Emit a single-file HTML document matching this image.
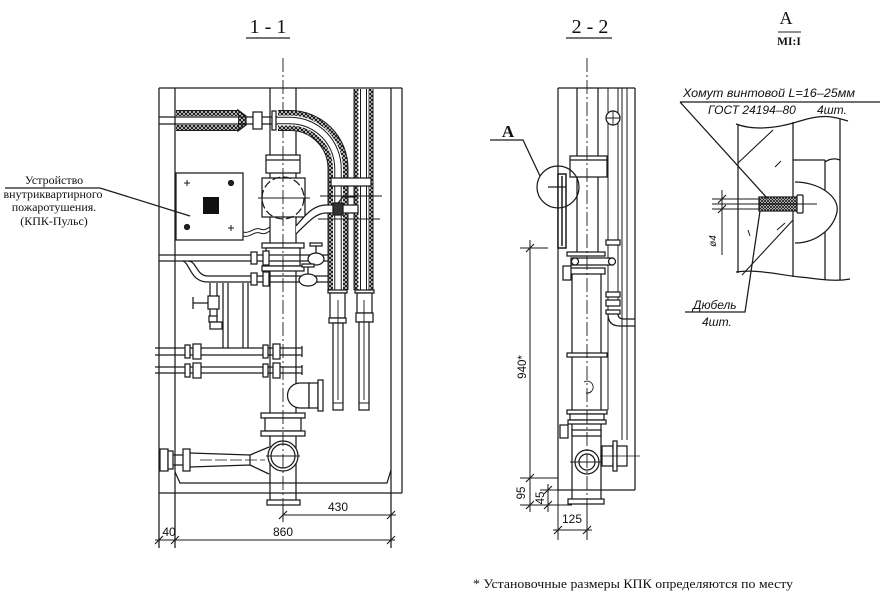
<!DOCTYPE html>
<html><head><meta charset="utf-8"><style>
html,body{margin:0;padding:0;background:#fff;}
svg{display:block}
text{font-family:"Liberation Serif",serif;fill:#111}
.s{font-family:"Liberation Sans",sans-serif;}
.i{font-family:"Liberation Sans",sans-serif;font-style:italic;}
</style></head><body>
<svg width="883" height="600" viewBox="0 0 883 600" xmlns="http://www.w3.org/2000/svg">
<defs>
<pattern id="br" width="4" height="4" patternUnits="userSpaceOnUse">
<rect width="4" height="4" fill="#fff"/>
<path d="M0,0L4,4M4,0L0,4" stroke="#1a1a1a" stroke-width="1.15"/>
</pattern>
<pattern id="br2" width="3" height="3" patternUnits="userSpaceOnUse">
<rect width="3" height="3" fill="#fff"/>
<path d="M0,0L3,3M3,0L0,3" stroke="#1a1a1a" stroke-width="0.9"/>
</pattern>
</defs>

<!-- ===== Titles ===== -->
<text x="268" y="33" font-size="20" text-anchor="middle">1 - 1</text>
<path d="M246 38H290" stroke="#222" stroke-width="1.3"/>
<text x="590" y="33" font-size="20" text-anchor="middle">2 - 2</text>
<path d="M566 38H612" stroke="#222" stroke-width="1.3"/>
<text x="786" y="24" font-size="18" text-anchor="middle">А</text>
<path d="M778 32H801" stroke="#222" stroke-width="1.1"/>
<text x="789" y="45" font-size="11.5" font-weight="bold" text-anchor="middle">МI:I</text>

<g stroke="#1a1a1a" stroke-width="1.25" fill="none">
<!-- ===== 1-1 frame ===== -->
<path d="M159 88V548M175 88V548M391 88V548M402 88V493M159 88H402"/>
<path d="M159 493H402M175 472L180 483H387L391 470"/>

<!-- center pipe -->
<path d="M270 88V155M296 88V155M270 173V243M296 173V243M270 271V413M296 271V413M270 436V500M296 436V500"/>
<rect x="266" y="155" width="34" height="18" fill="#fff"/>
<path d="M266 160H300"/>
<rect x="262" y="178" width="43" height="39" fill="#fff"/>
<circle cx="283" cy="198" r="21" stroke-dasharray="8 3"/>
<path d="M258 198H310" stroke-width="0.9"/>
<rect x="262" y="243" width="42" height="5" fill="#fff"/>
<rect x="266" y="248" width="34" height="18" fill="#fff"/>
<rect x="262" y="266" width="42" height="5" fill="#fff"/>
<rect x="261" y="413" width="44" height="5" fill="#fff"/>
<rect x="265" y="418" width="36" height="13" fill="#fff"/>
<rect x="261" y="431" width="44" height="5" fill="#fff"/>
<circle cx="283" cy="456" r="15" fill="#fff"/>
<circle cx="283" cy="456" r="12"/>
<path d="M266 456H300" stroke-width="0.9"/>
<rect x="267" y="500" width="33" height="5" fill="#fff"/>

<!-- right elbow -->
<path d="M309 383H300A12.5 12.5 0 0 0 300 408H309Z" fill="#fff"/>
<rect x="309" y="383" width="9" height="25" fill="#fff"/>
<rect x="318" y="380" width="5" height="31" fill="#fff"/>

<!-- left reducer -->
<rect x="160" y="449" width="8" height="22" fill="#fff"/>
<rect x="168" y="451" width="5" height="18" fill="#fff"/>
<path d="M173 455H183M173 465H183"/>
<rect x="183" y="449" width="7" height="22" fill="#fff"/>
<path d="M190 453L250 455M190 467L250 465M250 455L269 447M250 465L269 474M250 455V465"/>
<path d="M200 460H265" stroke-width="0.8" stroke-dasharray="12 3"/>

<!-- rows 1,2 -->
<path d="M159 255H330M159 261H330"/>
<path d="M188 261C197 261 196 276 208 276H330M183 261C190 263 190 282 208 282H330"/>
<rect x="251" y="252" width="6" height="12" fill="#fff"/>
<rect x="263" y="251" width="6" height="14" fill="#fff"/>
<rect x="251" y="273" width="6" height="12" fill="#fff"/>
<rect x="263" y="272" width="6" height="14" fill="#fff"/>
<ellipse cx="316" cy="259" rx="8" ry="6" fill="#fff"/>
<path d="M316 253V246"/>
<rect x="310" y="243" width="12" height="3" fill="#fff"/>
<ellipse cx="308" cy="280" rx="9" ry="6" fill="#fff"/>
<path d="M308 274V267"/>
<rect x="302" y="264" width="12" height="3" fill="#fff"/>

<!-- small vertical with valve -->
<path d="M210 283V318M217 283V318"/>
<rect x="208" y="296" width="11" height="13" fill="#fff"/>
<path d="M193 297V309M193 303H208"/>
<rect x="209" y="316" width="8" height="6" fill="#fff"/>
<rect x="210" y="322" width="12" height="7" fill="#fff"/>
<path d="M223 283V348M228 283V348M243 283V348M248 283V348"/>

<!-- rows 3,4 -->
<path d="M155 348H302M155 355H302M302 346V357M155 367H302M155 373H302M302 365V375"/>
<rect x="185" y="345" width="5" height="13" fill="#fff"/>
<rect x="193" y="344" width="8" height="15" fill="#fff"/>
<rect x="263" y="345" width="5" height="13" fill="#fff"/>
<rect x="273" y="344" width="7" height="15" fill="#fff"/>
<rect x="185" y="364" width="5" height="13" fill="#fff"/>
<rect x="193" y="363" width="8" height="15" fill="#fff"/>
<rect x="263" y="364" width="5" height="13" fill="#fff"/>
<rect x="273" y="363" width="7" height="15" fill="#fff"/>

<!-- center dash line -->
<path d="M283 58V522" stroke-width="0.9" stroke-dasharray="14 3 2 3"/>

<!-- insulated pipes -->
<polygon points="238,110 246,116 246,125 238,131" fill="url(#br)"/>
<path d="M176 120.5H238" stroke="#1a1a1a" stroke-width="21"/>
<path d="M176 120.5H238" stroke="url(#br)" stroke-width="19"/>
<path d="M176 120.5H238" stroke="#fff" stroke-width="9"/>
<path d="M159 117H285M159 124H285"/>
<rect x="253" y="112" width="9" height="17" fill="#fff"/>
<rect x="272" y="111" width="4" height="19" fill="#fff"/>

<g>
<path d="M278 120.5H290A48 48 0 0 1 338 168.5V290" stroke="#1a1a1a" stroke-width="21"/>
<path d="M278 120.5H290A48 48 0 0 1 338 168.5V290" stroke="url(#br)" stroke-width="19"/>
<path d="M278 120.5H290A48 48 0 0 1 338 168.5V290" stroke="#fff" stroke-width="10"/>
<path d="M278 120.5H290A48 48 0 0 1 338 168.5V290" stroke="#1a1a1a" stroke-width="7.5"/>
<path d="M278 120.5H290A48 48 0 0 1 338 168.5V290" stroke="#fff" stroke-width="5.5"/>
<path d="M363.5 89V290" stroke="#1a1a1a" stroke-width="20"/>
<path d="M363.5 89V290" stroke="url(#br)" stroke-width="18"/>
<path d="M363.5 89V290" stroke="#fff" stroke-width="10"/>
<path d="M363.5 89V290" stroke="#1a1a1a" stroke-width="7"/>
<path d="M363.5 89V290" stroke="#fff" stroke-width="5"/>
</g>

<!-- pipe ends below insulation -->
<rect x="328" y="290" width="19" height="3" fill="#fff"/>
<rect x="330" y="293" width="15" height="25" fill="#fff"/>
<rect x="329" y="318" width="17" height="5" fill="#fff"/>
<rect x="333" y="323" width="10" height="87" fill="#fff"/>
<path d="M333 403H343M338 300V400" stroke-width="0.9"/>
<rect x="355" y="290" width="19" height="3" fill="#fff"/>
<rect x="357" y="293" width="15" height="20" fill="#fff"/>
<rect x="356" y="313" width="17" height="9" fill="#fff"/>
<rect x="359" y="322" width="10" height="88" fill="#fff"/>
<path d="M359 403H369M364 300V400" stroke-width="0.9"/>

<!-- bracket & branch from tee -->
<rect x="331" y="178" width="40" height="8" fill="#fff"/>
<path d="M320 196H382M318 219H380" stroke-width="0.9"/>
<path d="M296 226C306 214 314 205 326 205H358V213H326C316 213 308 222 296 234" fill="#fff"/>
<rect x="333" y="203" width="10" height="12" fill="#333"/>
<path d="M338 203L343 197H356"/>

<!-- KPK box -->
<rect x="176" y="173" width="67" height="67" fill="#fff"/>
<rect x="203" y="197" width="16" height="17" fill="#111" stroke="none"/>
<path d="M184 183H190M187 180V186M228 228H234M231 225V231" stroke-width="1"/>
<circle cx="231" cy="183" r="2.5" fill="#222"/>
<circle cx="187" cy="227" r="2.5" fill="#222"/>
<path d="M243 232C250 234 254 227 260 229S267 228 270 227M243 236C250 238 254 231 260 233S267 232 270 231" stroke-width="1"/>

<!-- label leader -->
<path d="M5 188H100L190 216"/>

<!-- dims 1-1 -->
<path d="M155 540H395M283 515H396M283 505V522" stroke-width="1"/>
<path d="M155 544L163 536M171 544L179 536M387 544L395 536M279 519L287 511M387 519L395 511" stroke-width="1.1"/>

<!-- ===== 2-2 ===== -->
<path d="M558 88V490M635 88V490M558 88H635M558 490H635"/>
<path d="M622 88V440M627 88V440M608 88V410M618 88V300" stroke-width="1"/>
<circle cx="613" cy="118" r="7" fill="#fff"/>
<path d="M606 118H620M613 111V125" stroke-width="0.9"/>
<rect x="606" y="240" width="14" height="5" fill="#fff"/>
<rect x="606" y="292" width="14" height="5" fill="#fff"/>
<rect x="606" y="300" width="14" height="6" fill="#fff"/>
<rect x="606" y="310" width="14" height="4" fill="#fff"/>
<path d="M608 314Q608 326 620 326H635M618 314Q618 319 624 319H635"/>

<path d="M577 88V252M598 88V252"/>
<rect x="570" y="156" width="37" height="21" fill="#fff"/>
<path d="M570 160H607"/>

<rect x="558" y="174" width="8" height="74" fill="#fff" stroke-width="1.5"/>
<path d="M562 176V246" stroke-width="1.5"/>
<path d="M548 187H566"/>
<circle cx="558" cy="187" r="21"/>

<rect x="567" y="252" width="38" height="4" fill="#fff"/>
<rect x="571" y="258" width="42" height="7" fill="#fff"/>
<circle cx="575" cy="261.5" r="3.5" fill="#fff"/>
<circle cx="612" cy="261.5" r="3.5" fill="#fff"/>
<rect x="570" y="268" width="35" height="6" fill="#fff"/>
<rect x="563" y="266" width="8" height="14" fill="#fff"/>

<path d="M572 274V500M601 274V500"/>
<rect x="567" y="353" width="40" height="4" fill="#fff"/>
<path d="M584 382A6 6 0 1 1 586 393" stroke-width="0.9"/>
<rect x="567" y="410" width="40" height="4" fill="#fff"/>
<rect x="570" y="414" width="34" height="6" fill="#fff"/>
<rect x="568" y="420" width="38" height="4" fill="#fff"/>
<rect x="572" y="430" width="29" height="6" fill="#fff"/>
<rect x="560" y="425" width="8" height="13" fill="#fff"/>
<circle cx="587" cy="462" r="12" fill="#fff"/>
<circle cx="587" cy="462" r="8"/>
<path d="M570 462H604" stroke-width="0.9"/>
<rect x="602" y="446" width="11" height="20" fill="#fff"/>
<rect x="613" y="441" width="4" height="30" fill="#fff"/>
<rect x="617" y="446" width="10" height="20" fill="#fff"/>
<path d="M600 456H640" stroke-width="0.8"/>
<rect x="568" y="499" width="36" height="5" fill="#fff"/>
<path d="M587 58V522" stroke-width="0.9" stroke-dasharray="14 3 2 3"/>

<!-- A leader -->
<path d="M490 140H523L540 176"/>

<!-- dims 2-2 -->
<path d="M530 240V512M520 248H548M520 478H558M540 490H558M520 505H572M548 484V512" stroke-width="1"/>
<path d="M526 252L534 244M526 482L534 474M526 509L534 501M544 494L552 486M544 509L552 501" stroke-width="1.1"/>
<path d="M558 490V540M587 505V540M553 530H592" stroke-width="1"/>
<path d="M554 534L562 526M583 534L591 526" stroke-width="1.1"/>

<!-- ===== Detail A ===== -->
<path d="M738 124V273M793 122V277M840 119V280M825 160V280"/>
<path d="M736 124C755 131 778 128 800 121S832 116 848 121"/>
<path d="M736 272C758 269 780 275 800 277S834 282 850 279"/>
<path d="M793 160H825M825 162Q832 157 840 160"/>
<path d="M795 182C818 182 840 196 837 212C833 230 815 243 795 243" fill="#fff"/>
<path d="M738 163L773 130M742 275L793 220" stroke-width="1.1"/>
<path d="M775 167L781 161M777 230L785 223M748 230L750 236" stroke-width="1"/>
<rect x="759" y="197" width="38" height="14" fill="url(#br2)"/>
<rect x="797" y="195" width="6" height="18" rx="1" fill="#fff"/>
<path d="M712 204H817" stroke-width="0.9"/>
<path d="M712 199H760M712 209H760M722 190V255" stroke-width="1"/>
<path d="M718 203L726 195M718 213L726 205" stroke-width="1.1"/>
<path d="M680 102H880M680 102L767 198"/>
<path d="M685 312H745L760 211"/>
</g>

<!-- ===== Texts ===== -->
<g font-size="12" text-anchor="middle">
<text x="54" y="184">Устройство</text>
<text x="53" y="198" textLength="99" lengthAdjust="spacingAndGlyphs">внутриквартирного</text>
<text x="54" y="211">пожаротушения.</text>
<text x="54" y="225">(КПК-Пульс)</text>
</g>

<text class="s" x="338" y="511" font-size="12" text-anchor="middle">430</text>
<text class="s" x="283" y="536" font-size="12" text-anchor="middle">860</text>
<text class="s" x="169" y="536" font-size="12" text-anchor="middle">40</text>

<text x="508" y="137" font-size="17" font-weight="bold" text-anchor="middle">А</text>
<text class="s" font-size="11.5" text-anchor="middle" transform="translate(526,367) rotate(-90)">940*</text>
<text class="s" font-size="11.5" text-anchor="middle" transform="translate(525,493) rotate(-90)">95</text>
<text class="s" font-size="11.5" text-anchor="middle" transform="translate(544,498) rotate(-90)">45</text>
<text class="s" x="572" y="523" font-size="12" text-anchor="middle">125</text>

<text class="i" x="683" y="97" font-size="12" textLength="172" lengthAdjust="spacingAndGlyphs">Хомут винтовой L=16–25мм</text>
<text class="i" x="708" y="114" font-size="12">ГОСТ 24194–80</text>
<text class="i" x="817" y="114" font-size="12">4шт.</text>
<text class="i" x="693" y="309" font-size="12">Дюбель</text>
<text class="i" x="702" y="326" font-size="12">4шт.</text>
<text class="i" font-size="10" text-anchor="middle" transform="translate(716,241) rotate(-90)">ø4</text>

<text x="473" y="588" font-size="12.5" textLength="320" lengthAdjust="spacingAndGlyphs">* Установочные размеры КПК определяются по месту</text>
</svg>
</body></html>
